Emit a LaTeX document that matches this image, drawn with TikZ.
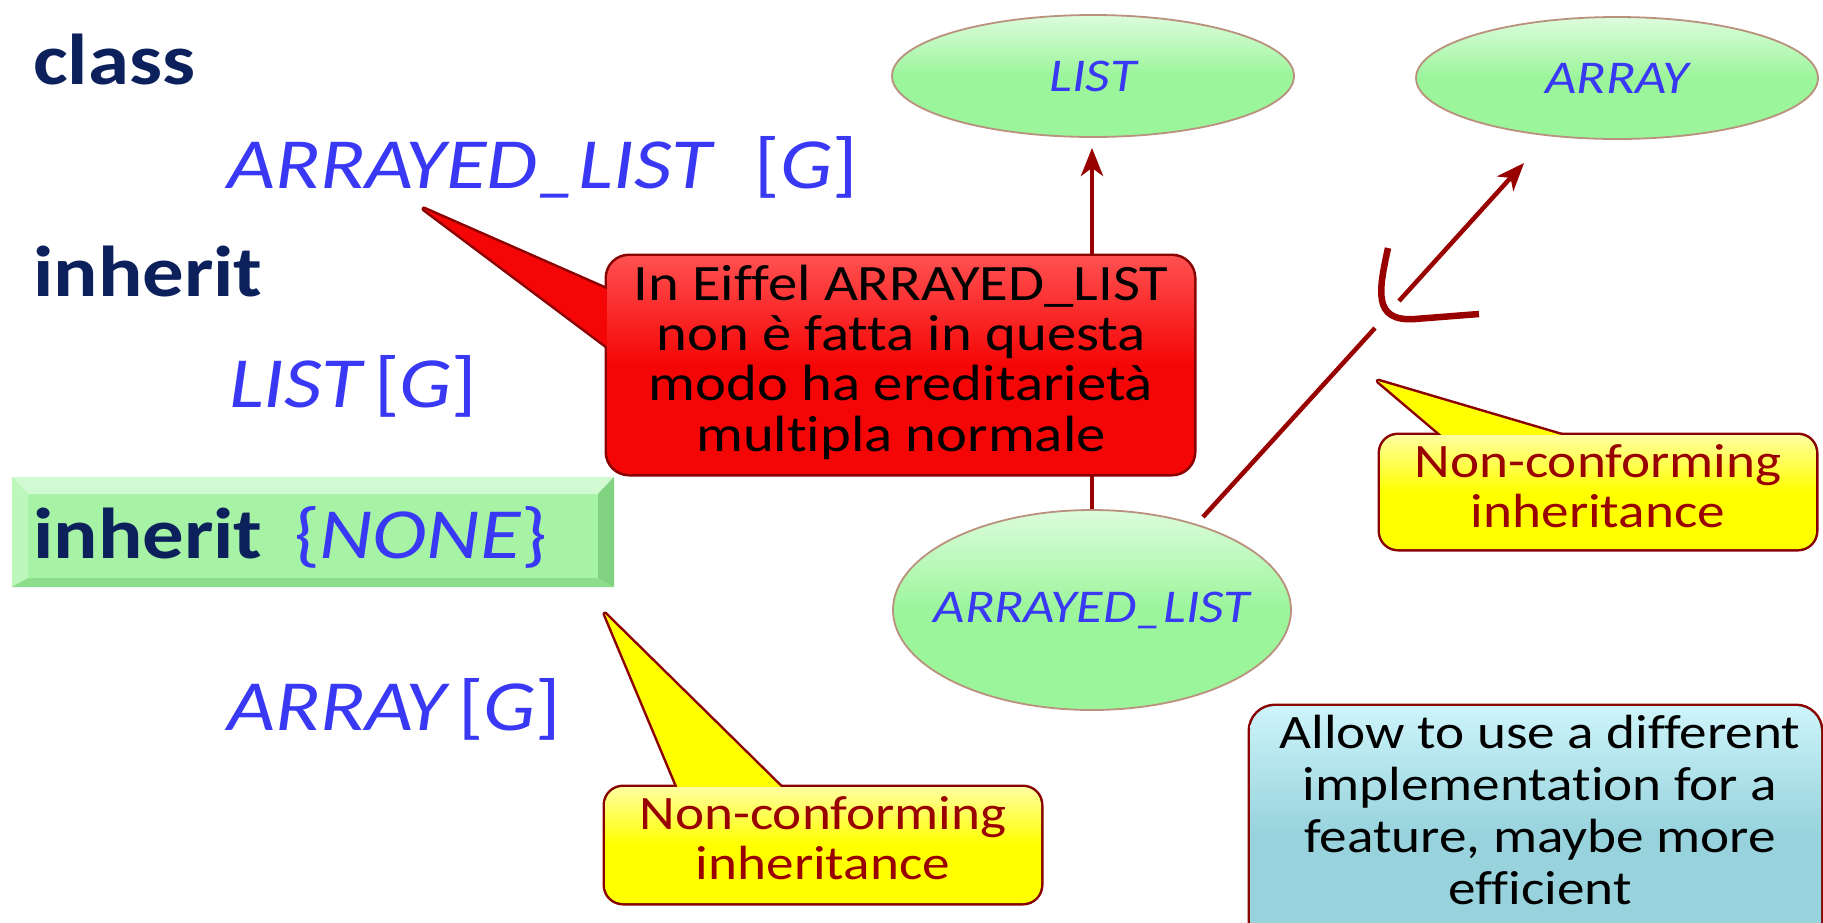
\documentclass[tikz,border=0pt]{standalone}
\usepackage{fontspec}
\setmainfont{Carlito}[FakeStretch=1.15, Ligatures=NoCommon]
\usetikzlibrary{arrows.meta,shapes.geometric}

% palette
\definecolor{kwnavy}{RGB}{12,32,92}
\definecolor{idblue}{RGB}{56,56,245}
\definecolor{arrowred}{RGB}{153,0,0}
\definecolor{ellfill}{RGB}{155,245,155}
\definecolor{elltop}{RGB}{220,252,220}
\definecolor{ellrim}{RGB}{185,145,125}
\definecolor{boxgreen}{RGB}{166,243,166}
\definecolor{bevtop}{RGB}{210,250,210}
\definecolor{bevleft}{RGB}{188,247,188}
\definecolor{bevright}{RGB}{128,210,128}
\definecolor{bevbottom}{RGB}{140,222,140}
\definecolor{callred}{RGB}{245,6,6}
\definecolor{redlight}{RGB}{255,80,80}
\definecolor{callyellow}{RGB}{255,255,0}
\definecolor{yellowlight}{RGB}{255,255,160}
\definecolor{callcyan}{RGB}{152,211,221}
\definecolor{cyanlight}{RGB}{205,244,250}
\definecolor{rimred}{RGB}{140,0,0}
\definecolor{noteink}{RGB}{153,0,0}

\newcommand\kwfont{\fontsize{72}{86}\selectfont\bfseries}
\newcommand\idfont{\fontsize{72}{86}\selectfont\itshape}
\newcommand\ellfont{\fontsize{47}{52}\selectfont\itshape}
\newcommand\rednotefont{\fontsize{51}{50.3}\selectfont}
\newcommand\yelnotefont{\fontsize{48}{50}\selectfont}
\newcommand\cyannotefont{\fontsize{48}{52}\selectfont}
\newcommand\gparam{{\upshape[}G{\upshape]}}

\tikzset{
  keyword/.style={anchor=base west, inner sep=0pt, text=kwnavy, font=\kwfont},
  ident/.style={anchor=base west, inner sep=0pt, text=idblue, font=\idfont},
  classell/.style={ellipse, draw=ellrim, line width=1.8pt, top color=elltop,
    bottom color=ellfill, middle color=ellfill, inner sep=0pt, text=idblue, font=\ellfont},
  link/.style={draw=arrowred, line width=4.5pt},
  linkarrow/.style={link, -{Stealth[length=28pt,width=22pt,inset=8pt]}},
  cuphook/.style={draw=arrowred, line width=6.5pt},
  rimstroke/.style={draw=rimred, line width=5pt, line join=round},
  notetext/.style={align=center, inner sep=0pt},
}

\begin{document}
\begin{tikzpicture}[x=1pt, y=-1pt]
\useasboundingbox (0,0) rectangle (1823,922);
\fill[white] (0,0) rectangle (1823,922);
\clip (0,0) rectangle (1823,922);

% ---- class text ----
\node[keyword] (kwclass) at (33,84) {class};
\node[ident] (clsname) at (227,188) {ARRAYED\_LIST\hspace{0.6em}\gparam};
\node[keyword] (kwinherit) at (33,296) {inherit};
\node[ident] (parlist) at (229,407) {LIST\,\gparam};

% bevelled green band behind the second inherit clause
\fill[boxgreen] (12,477) rectangle (614,587);
\fill[bevtop] (12,477) -- (614,477) -- (598,494) -- (28,494) -- cycle;
\fill[bevleft] (12,477) -- (28,494) -- (28,578) -- (12,587) -- cycle;
\fill[bevright] (614,477) -- (598,494) -- (598,578) -- (614,587) -- cycle;
\fill[bevbottom] (12,587) -- (614,587) -- (598,578) -- (28,578) -- cycle;
\node[keyword] (kwinhnone) at (33,558) {inherit};
\node[ident] (nonemark) at (294,558) {{\upshape\{}\kern-1pt NONE\kern1pt{\upshape\}}};
\node[ident] (pararray) at (227,730) {ARRAY\,\gparam};

% ---- class bubbles ----
\node[classell, minimum width=402pt, minimum height=122pt] (list) at (1093,76) {LIST};
\node[classell, minimum width=402pt, minimum height=122pt] (array) at (1617,78) {ARRAY};
\node[classell, inner xsep=-20pt, minimum width=398pt, minimum height=200pt] (alist) at (1092,610) {ARRAYED\_LIST};

% ---- inheritance links ----
\draw[linkarrow, shorten >=10pt] (alist.north) -- (alist.north |- list.south);

\coordinate (diagfoot) at (1203,517);
\coordinate (gaplow) at (1375,328);
\coordinate (gaphigh) at (1399,301);
\coordinate (diaghead) at (1524,163);
\draw[link] (diagfoot) -- (gaplow);
\draw[linkarrow] (gaphigh) -- (diaghead);
% non-conformance mark
\draw[cuphook] (1388,248) .. controls (1379,290) and (1372,322) .. (1415,319) -- (1479,314);

% ---- red note ----
\coordinate (redtip) at (424,209);
\path[rimstroke] (redtip) -- (640,304) -- (640,371) -- cycle;
\path[rimstroke, rounded corners=22pt] (607,256) rectangle (1194,474);
\fill[callred] (redtip) -- (640,304) -- (640,371) -- cycle;
\fill[rounded corners=22pt, top color=redlight, bottom color=callred, middle color=callred]
  (607,256) rectangle (1194,474);
\node[notetext, font=\rednotefont, text=black] (rednote) at (901,362)
  {In Eiffel ARRAYED\_LIST\\non è fatta in questa\\modo ha ereditarietà\\multipla normale};

% ---- yellow note under the class text ----
\coordinate (yeltipa) at (605,614);
\path[rimstroke] (yeltipa) -- (683,800) -- (794,800) -- cycle;
\path[rimstroke, rounded corners=18pt] (605,787) rectangle (1041,903);
\fill[callyellow] (yeltipa) -- (683,800) -- (794,800) -- cycle;
\fill[rounded corners=18pt, top color=yellowlight, bottom color=callyellow, middle color=callyellow]
  (605,787) rectangle (1041,903);
\node[notetext, font=\yelnotefont, text=noteink] (yelnotea) at (823,838)
  {Non-conforming\\inheritance};

% ---- yellow note on the right ----
\coordinate (yeltipb) at (1378,381);
\path[rimstroke] (yeltipb) -- (1457,448) -- (1605,448) -- cycle;
\path[rimstroke, rounded corners=18pt] (1380,435) rectangle (1816,549);
\fill[callyellow] (yeltipb) -- (1457,448) -- (1605,448) -- cycle;
\fill[rounded corners=18pt, top color=yellowlight, bottom color=callyellow, middle color=callyellow]
  (1380,435) rectangle (1816,549);
\node[notetext, font=\yelnotefont, text=noteink] (yelnoteb) at (1598,486)
  {Non-conforming\\inheritance};

% ---- cyan note ----
\path[rimstroke, rounded corners=25pt] (1250,706) rectangle (1821,960);
\fill[rounded corners=25pt, top color=cyanlight, bottom color=callcyan, middle color=callcyan]
  (1250,706) rectangle (1821,960);
\node[notetext, font=\cyannotefont, text=black] (cyannote) at (1540,810)
  {Allow to use a different\\implementation for a\\feature, maybe more\\efficient};
\end{tikzpicture}
\end{document}
